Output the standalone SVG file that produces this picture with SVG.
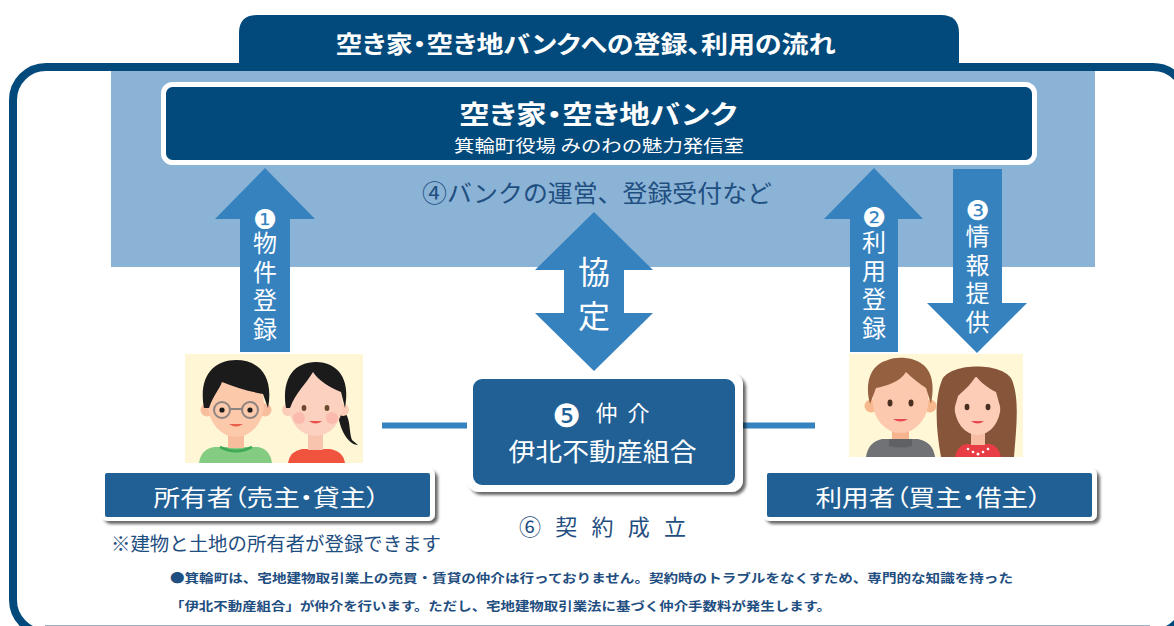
<svg xmlns="http://www.w3.org/2000/svg" width="1174" height="626" viewBox="0 0 1174 626">
  <defs>
    <style>
      .jp { font-family: "Noto Sans CJK JP", "DejaVu Sans", sans-serif; }
      .num { font-family: "DejaVu Sans", "Noto Sans CJK JP", sans-serif; }
      .w { fill: #ffffff; }
      .navy { fill: #034a7c; }
      .mid { fill: #216095; }
      .arw { fill: #3682bf; }
      .dk { fill: #1f4e80; }
      .lbl { font-feature-settings: "palt"; }
      .vt { writing-mode: vertical-rl; }
      .link { stroke: #3682bf; stroke-width: 6; fill: none; }
    </style>
    <filter id="shadow" x="-10%" y="-20%" width="125%" height="150%">
      <feDropShadow dx="3" dy="3" stdDeviation="1.6" flood-color="#000" flood-opacity="0.6"/>
    </filter>
  </defs>

  <rect x="0" y="0" width="1174" height="626" fill="#ffffff"/>

  <!-- bank operation band -->
  <rect x="111" y="70" width="984" height="197" fill="#8ab3d6"/>

  <!-- outer frame and title tab -->
  <g id="frame">
    <rect x="13" y="67" width="1173" height="566" rx="33" fill="none" stroke="#034a7c" stroke-width="8"/>
    <line x1="45" y1="625.5" x2="1150" y2="625.5" stroke="#9db0c2" stroke-width="1"/>
    <path class="navy" d="M239,71 L239,33 Q239,15 257,15 L941,15 Q959,15 959,33 L959,71 Z"/>
    <text class="jp w lbl" x="585.5" y="52.6" font-size="24" font-weight="bold" text-anchor="middle" textLength="500" lengthAdjust="spacingAndGlyphs">空き家・空き地バンクへの登録、利用の流れ</text>
  </g>

  <!-- bank -->
  <g id="bank">
    <rect x="163.5" y="84.5" width="871" height="78" rx="9" class="navy" stroke="#ffffff" stroke-width="5"/>
    <text class="jp w lbl" x="598" y="124" font-size="26.5" font-weight="bold" text-anchor="middle" textLength="278" lengthAdjust="spacingAndGlyphs">空き家・空き地バンク</text>
    <text class="jp w" x="599" y="152" font-size="17.5" text-anchor="middle" textLength="290" lengthAdjust="spacingAndGlyphs">箕輪町役場 みのわの魅力発信室</text>
    <text class="jp dk" x="597" y="201.6" font-size="24" text-anchor="middle" textLength="350" lengthAdjust="spacingAndGlyphs">④バンクの運営、登録受付など</text>
  </g>

  <!-- connectors: flow arrows and links -->
  <g id="connectors">
    <!-- 1: property registration (up) -->
    <polygon class="arw" points="265,168 315,219 290,219 290,352 240,352 240,219 215,219"/>
    <text class="num w" x="265" y="229" font-size="27" text-anchor="middle">❶</text>
    <text class="jp w vt" x="265" y="231" font-size="24" letter-spacing="4.5">物件登録</text>

    <!-- agreement (both ways) -->
    <polygon class="arw" points="594,212 653,270 624,270 624,313 653,313 594,371 535,313 564,313 564,270 535,270"/>
    <text class="jp w vt" x="594" y="256" font-size="32" letter-spacing="12">協定</text>

    <!-- 2: user registration (up) -->
    <polygon class="arw" points="874,168 923,219 898,219 898,352 850,352 850,219 824,219"/>
    <text class="num w" x="874" y="226.5" font-size="27" text-anchor="middle">❷</text>
    <text class="jp w vt" x="874" y="230" font-size="24" letter-spacing="4.5">利用登録</text>

    <!-- 3: information (down) -->
    <polygon class="arw" points="953,169 1002,169 1002,303 1027,303 977,353 927,303 953,303"/>
    <text class="num w" x="977.5" y="220" font-size="27" text-anchor="middle">❸</text>
    <text class="jp w vt" x="977.5" y="224" font-size="24" letter-spacing="4.5">情報提供</text>

    <!-- owner/user to broker links -->
    <line class="link" x1="382" y1="425.5" x2="467" y2="425.5"/>
    <line class="link" x1="743" y1="425.5" x2="815" y2="425.5"/>
  </g>

  <!-- owners -->
  <g id="owner">
    <rect x="185" y="354" width="178" height="109" fill="#fff6d5"/>
    <!-- man with glasses -->
    <path d="M199,463 Q201,449 214,447 L258,447 Q270,449 272,463 Z" fill="#85cc83"/>
    <path d="M220,447 Q236,455 252,447" fill="none" stroke="#3fa957" stroke-width="3"/>
    <rect x="228" y="428" width="16" height="20" fill="#f7bd9c"/>
    <circle cx="207" cy="410" r="6.5" fill="#f7bd9c"/>
    <circle cx="265" cy="410" r="6.5" fill="#f7bd9c"/>
    <ellipse cx="236" cy="404" rx="28" ry="33" fill="#fcc9aa"/>
    <path d="M204,408 C198,376 214,360 236,360 C259,360 274,376 268,408 L263,394 C252,392 236,388 222,382 C219,390 213,396 209,408 Z" fill="#1b1b1b"/>
    <circle cx="222" cy="410" r="8" fill="none" stroke="#8d8380" stroke-width="2"/>
    <circle cx="250" cy="410" r="8" fill="none" stroke="#8d8380" stroke-width="2"/>
    <line x1="230" y1="409" x2="242" y2="409" stroke="#8d8380" stroke-width="2"/>
    <circle cx="222" cy="410" r="2.6" fill="#1b1b1b"/>
    <circle cx="250" cy="410" r="2.6" fill="#1b1b1b"/>
    <path d="M229,424 Q236,429 243,424 Z" fill="#e8604b"/>
    <!-- woman with ponytail -->
    <path d="M340,408 C352,416 348,428 352,440 L358,445 C350,445 342,434 339,420 Z" fill="#1b1b1b"/>
    <path d="M288,463 Q290,451 302,449 L330,449 Q343,451 345,463 Z" fill="#f0543f"/>
    <rect x="308" y="430" width="15" height="20" fill="#f9c4ad"/>
    <circle cx="288" cy="410" r="6" fill="#fbcdb9"/>
    <circle cx="343" cy="410" r="6" fill="#fbcdb9"/>
    <ellipse cx="315.5" cy="404" rx="27" ry="32" fill="#fdd1bf"/>
    <path d="M286,408 C281,376 296,362 316,362 C337,362 351,378 345,408 L341,392 C330,388 318,380 313,372 C306,384 296,392 290,408 Z" fill="#1b1b1b"/>
    <circle cx="299" cy="418" r="6" fill="#f8a9a0" opacity="0.55"/>
    <circle cx="332" cy="418" r="6" fill="#f8a9a0" opacity="0.55"/>
    <ellipse cx="304" cy="408" rx="2.4" ry="3" fill="#6b4a2e"/>
    <ellipse cx="327" cy="408" rx="2.4" ry="3" fill="#6b4a2e"/>
    <path d="M309,421 Q315.5,426 322,421 Z" fill="#e8504b"/>

    <rect x="101" y="468" width="334" height="53" rx="7" fill="#ffffff" filter="url(#shadow)"/>
    <rect x="105" y="473" width="325" height="44" rx="2" class="mid"/>
    <text class="jp w lbl" x="266.5" y="506" font-size="23" text-anchor="middle" textLength="226" lengthAdjust="spacingAndGlyphs">所有者（売主・貸主）</text>
    <text class="jp dk" x="276" y="551" font-size="19" text-anchor="middle" textLength="330" lengthAdjust="spacingAndGlyphs">※建物と土地の所有者が登録できます</text>
  </g>

  <!-- broker -->
  <g id="broker">
    <rect x="467" y="373" width="276" height="119" rx="12" fill="#ffffff" filter="url(#shadow)"/>
    <rect x="473" y="379" width="262" height="106" rx="9" class="mid"/>
    <text class="num w" x="566.5" y="426.5" font-size="32" text-anchor="middle">❺</text>
    <text class="jp w" x="606.5" y="421.4" font-size="22" text-anchor="middle">仲</text>
    <text class="jp w" x="638.5" y="421.4" font-size="22" text-anchor="middle">介</text>
    <text class="jp w" x="602.5" y="461" font-size="25" text-anchor="middle" textLength="188" lengthAdjust="spacingAndGlyphs">伊北不動産組合</text>
    <text class="jp dk" x="519" y="534.5" font-size="22" textLength="167" lengthAdjust="spacing">⑥ 契 約 成 立</text>
  </g>

  <!-- users -->
  <g id="user">
    <rect x="849" y="354" width="174" height="103" fill="#fff7d6"/>
    <!-- man -->
    <path d="M866,457 Q868,442 882,439 L918,439 Q933,442 935,457 Z" fill="#707276"/>
    <rect x="892" y="426" width="17" height="14" fill="#f6b58f"/>
    <path d="M889,439 L889,446 Q900,449 912,446 L912,439 Z" fill="#5f6165"/>
    <circle cx="871" cy="406" r="6.5" fill="#f9b98f"/>
    <circle cx="930" cy="406" r="6.5" fill="#f9b98f"/>
    <ellipse cx="900.5" cy="400" rx="28" ry="33" fill="#fcc8ae"/>
    <path d="M870,404 C864,380 872,364 888,360 C896,356 914,357 922,364 C934,372 934,390 931,404 L926,388 C920,384 912,378 906,372 C900,382 886,386 876,388 Z" fill="#946040"/>
    <ellipse cx="890" cy="403" rx="2.5" ry="3.4" fill="#4a3020"/>
    <ellipse cx="911" cy="403" rx="2.5" ry="3.4" fill="#4a3020"/>
    <path d="M893,419 Q900.5,424 908,419 Z" fill="#e84a50"/>
    <!-- woman with long hair -->
    <path d="M941,457 C936,430 934,400 942,380 C950,362 1004,362 1012,380 C1020,400 1016,430 1014,457 Z" fill="#87553a"/>
    <path d="M955,457 Q957,446 966,444 L990,444 Q999,446 1001,457 Z" fill="#e83d45"/>
    <rect x="971" y="428" width="14" height="17" fill="#f7bda5"/>
    <ellipse cx="977.5" cy="406" rx="23" ry="29" fill="#fdcdb8"/>
    <path d="M954,410 C950,385 962,370 978,370 C994,370 1005,384 1001,410 L996,392 C988,388 980,382 976,376 C970,386 962,392 958,396 Z" fill="#87553a"/>
    <ellipse cx="967" cy="407" rx="2.4" ry="3.2" fill="#4a3020"/>
    <ellipse cx="988" cy="407" rx="2.4" ry="3.2" fill="#4a3020"/>
    <path d="M971,421 Q977.5,426 984,421 Z" fill="#e84a50"/>
    <g fill="#ffffff">
      <circle cx="968" cy="449" r="1.3"/>
      <circle cx="973" cy="452" r="1.3"/>
      <circle cx="978" cy="454" r="1.5"/>
      <circle cx="983" cy="452" r="1.3"/>
      <circle cx="988" cy="449" r="1.3"/>
    </g>

    <rect x="763" y="468" width="334" height="53" rx="7" fill="#ffffff" filter="url(#shadow)"/>
    <rect x="767" y="473" width="325" height="44" rx="2" class="mid"/>
    <text class="jp w lbl" x="928.5" y="506" font-size="23" text-anchor="middle" textLength="226" lengthAdjust="spacingAndGlyphs">利用者（買主・借主）</text>
  </g>

  <!-- footnote -->
  <g id="note" class="jp dk" font-size="12.5" font-weight="bold">
    <text x="170" y="583" textLength="843" lengthAdjust="spacingAndGlyphs">●箕輪町は、宅地建物取引業上の売買・賃貸の仲介は行っておりません。契約時のトラブルをなくすため、専門的な知識を持った</text>
    <text x="170" y="611" textLength="661" lengthAdjust="spacingAndGlyphs">「伊北不動産組合」が仲介を行います。ただし、宅地建物取引業法に基づく仲介手数料が発生します。</text>
  </g>
</svg>
